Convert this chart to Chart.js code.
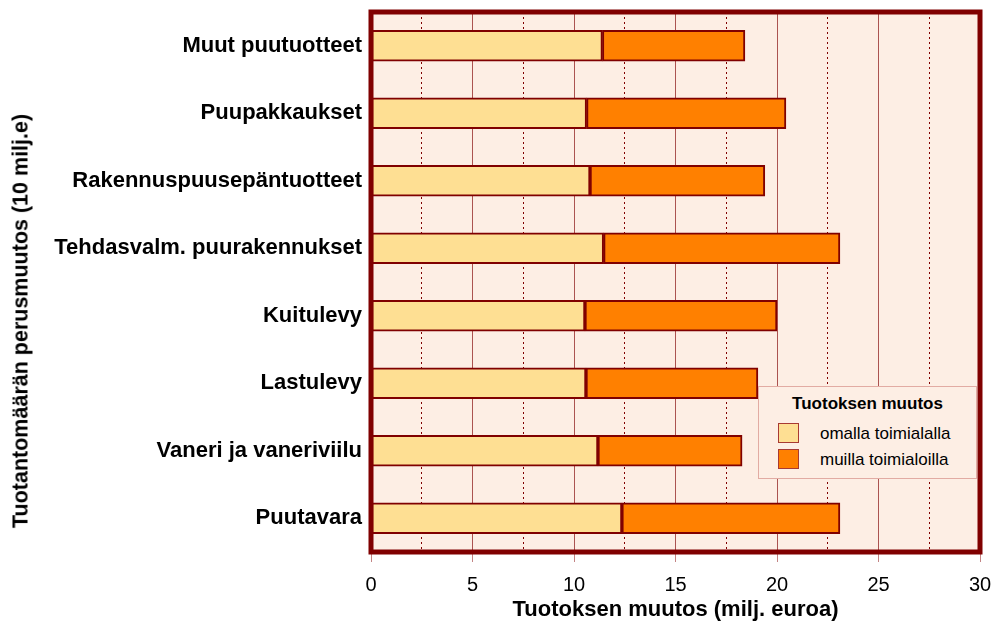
<!DOCTYPE html>
<html>
<head>
<meta charset="utf-8">
<script src="https://cdn.jsdelivr.net/npm/chart.js@4/dist/chart.umd.min.js"></script>
<style>
  html, body { margin: 0; padding: 0; background: #ffffff; }
  #wrap { position: relative; width: 992px; height: 623px; }
  #legendBox {
    position: absolute; left: 758px; top: 386px; width: 217px; height: 91px;
    background: #FDEEE4; border: 1px solid #E2ABA3;
    font-family: 'Liberation Sans', Arial, sans-serif; color: #000;
  }
  #legendBox .ttl { position: absolute; left: 0; width: 100%; top: 7px; text-align: center; font-weight: bold; font-size: 17px; }
  #legendBox .item { position: absolute; left: 19px; font-size: 17px; }
  #legendBox .sw { position: absolute; left: 0; top: 0; width: 19px; height: 18px; border: 1.5px solid #A83A32; }
  #legendBox .lbl { position: absolute; left: 42px; top: 0px; white-space: nowrap; line-height: 21px; }
  #yTitle {
    position: absolute; left: 21px; top: 321px; transform: translate(-50%, -50%) rotate(-90deg);
    white-space: nowrap; font-family: 'Liberation Sans', Arial, sans-serif; font-weight: bold; font-size: 21.5px; color: #000;
  }
</style>
</head>
<body>
<div id="wrap">
  <canvas id="c" width="992" height="623"></canvas>
  <div id="legendBox"></div>
  <div id="yTitle"></div>
</div>
<script>
const categories = [
  'Muut puutuotteet',
  'Puupakkaukset',
  'Rakennuspuusepäntuotteet',
  'Tehdasvalm. puurakennukset',
  'Kuitulevy',
  'Lastulevy',
  'Vaneri ja vaneriviilu',
  'Puutavara'
];
const ownIndustry = [11.4, 10.62, 10.79, 11.46, 10.54, 10.59, 11.18, 12.36];
const otherIndustries = [7.02, 9.82, 8.61, 11.64, 9.46, 8.47, 7.1, 10.74];
const seriesNames = ['omalla toimialalla', 'muilla toimialoilla'];
const legendTitle = 'Tuotoksen muutos';
const xTitle = 'Tuotoksen muutos (milj. euroa)';
const yTitle = 'Tuotantomäärän perusmuutos (10 milj.e)';
const majorTicks = [0, 5, 10, 15, 20, 25, 30];
const minorGridValues = [2.5, 7.5, 12.5, 17.5, 22.5, 27.5];

const colors = ['#FEDF93', '#FF8000'];
const FONT = "'Liberation Sans', Arial, sans-serif";

// legend and y title (HTML text)
document.getElementById('yTitle').textContent = yTitle;
const lb = document.getElementById('legendBox');
const t = document.createElement('div'); t.className = 'ttl'; t.textContent = legendTitle; lb.appendChild(t);
seriesNames.forEach((n, i) => {
  const it = document.createElement('div'); it.className = 'item'; it.style.top = (36 + i * 26) + 'px';
  const sw = document.createElement('div'); sw.className = 'sw'; sw.style.background = colors[i];
  const l = document.createElement('div'); l.className = 'lbl'; l.textContent = n;
  it.appendChild(sw); it.appendChild(l); lb.appendChild(it);
});

const framePlugin = {
  id: 'frame',
  beforeDraw(chart) {
    const {ctx, chartArea: a} = chart;
    ctx.save();
    ctx.fillStyle = '#FDEEE4';
    ctx.fillRect(a.left, a.top, a.right - a.left, a.bottom - a.top);
    ctx.restore();
  },
  afterDatasetsDraw(chart) {
    const {ctx, chartArea: a} = chart;
    ctx.save();
    ctx.strokeStyle = '#800000';
    ctx.lineWidth = 5;
    ctx.strokeRect(a.left, a.top, a.right - a.left, a.bottom - a.top);
    ctx.restore();
  }
};

new Chart(document.getElementById('c'), {
  type: 'bar',
  data: {
    labels: categories,
    datasets: [
      { label: seriesNames[0], data: ownIndustry, backgroundColor: colors[0], borderColor: '#800000', borderWidth: 2, borderSkipped: false, barThickness: 31 },
      { label: seriesNames[1], data: otherIndustries, backgroundColor: colors[1], borderColor: '#800000', borderWidth: 2, borderSkipped: false, barThickness: 31 }
    ]
  },
  options: {
    indexAxis: 'y',
    responsive: false,
    animation: false,
    layout: { padding: { top: 12, right: 12, bottom: 0, left: 0 } },
    plugins: { legend: { display: false }, tooltip: { enabled: false } },
    scales: {
      x: {
        type: 'linear', stacked: true, min: 0, max: 30,
        afterBuildTicks(s) { s.ticks = majorTicks.map(v => ({ value: v })); },
        afterFit(s) { s.height = 71; s.paddingLeft = 0; s.paddingRight = 0; },
        ticks: { font: { family: FONT, size: 20 }, color: '#000', padding: 11 },
        grid: { color: 'rgba(128,0,0,0.65)', lineWidth: 1, tickLength: 10, tickColor: 'rgba(170,80,80,0.7)', drawTicks: true },
        border: { display: false },
        title: { display: true, text: xTitle, font: { family: FONT, size: 22, weight: 'bold' }, color: '#000', padding: { top: 0, bottom: 0 } }
      },
      x2: {
        type: 'linear', position: 'bottom', min: 0, max: 30,
        afterBuildTicks(s) { s.ticks = minorGridValues.map(v => ({ value: v })); },
        afterFit(s) { s.height = 0; s.paddingLeft = 0; s.paddingRight = 0; },
        ticks: { display: false },
        grid: { color: '#800000', lineWidth: 1, drawTicks: false },
        border: { display: false, dash: [2, 3] }
      },
      y: {
        type: 'category', stacked: true,
        afterFit(s) { s.width = 371; s.paddingTop = 0; s.paddingBottom = 0; },
        ticks: { font: { family: FONT, size: 22, weight: 'bold' }, color: '#000', padding: 9 },
        grid: { display: false, drawTicks: false },
        border: { display: false },
        title: { display: false }
      }
    }
  },
  plugins: [framePlugin]
});
</script>
</body>
</html>
